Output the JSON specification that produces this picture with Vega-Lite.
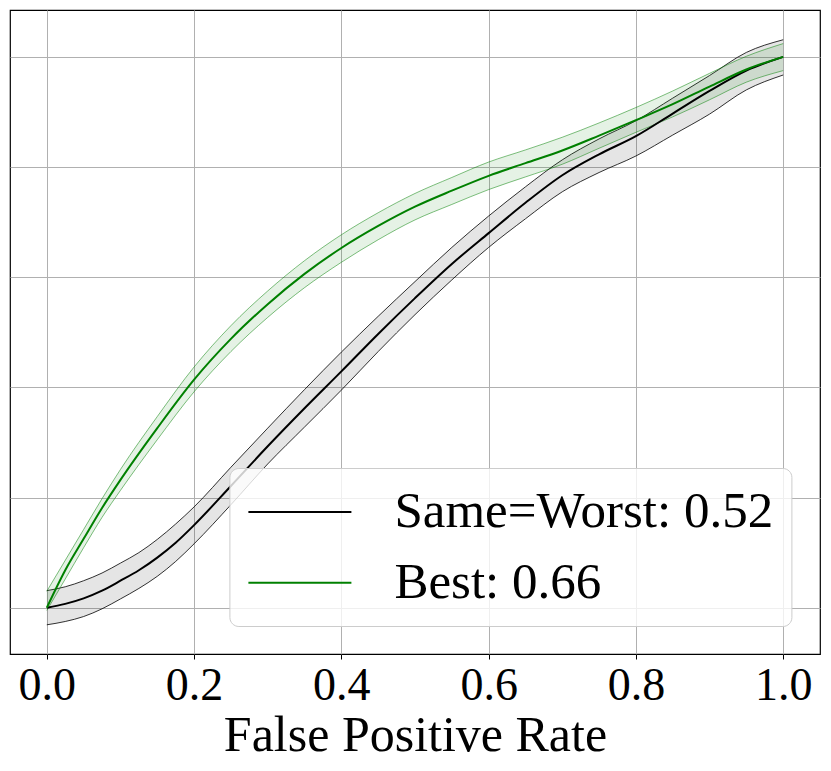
{
  "$schema": "https://vega.github.io/schema/vega-lite/v6.json",
  "width": 810,
  "height": 644,
  "autosize": "none",
  "padding": {"left": 10, "top": 10, "right": 11, "bottom": 117},
  "background": "white",
  "config": {
    "font": "Liberation Serif",
    "view": {"stroke": "black", "strokeWidth": 1.2},
    "axis": {"gridColor": "#b0b0b0", "gridWidth": 1, "gridOpacity": 1}
  },
  "data": {
    "values": [
      {"model": "Same=Worst: 0.52", "fpr": 0.0, "tpr": 0.0, "lo": -0.031, "hi": 0.031},
      {"model": "Same=Worst: 0.52", "fpr": 0.025, "tpr": 0.007, "lo": -0.025, "hi": 0.038},
      {"model": "Same=Worst: 0.52", "fpr": 0.05, "tpr": 0.017, "lo": -0.016, "hi": 0.049},
      {"model": "Same=Worst: 0.52", "fpr": 0.075, "tpr": 0.031, "lo": -0.002, "hi": 0.063},
      {"model": "Same=Worst: 0.52", "fpr": 0.1, "tpr": 0.049, "lo": 0.016, "hi": 0.081},
      {"model": "Same=Worst: 0.52", "fpr": 0.125, "tpr": 0.068, "lo": 0.035, "hi": 0.1},
      {"model": "Same=Worst: 0.52", "fpr": 0.15, "tpr": 0.091, "lo": 0.057, "hi": 0.124},
      {"model": "Same=Worst: 0.52", "fpr": 0.175, "tpr": 0.118, "lo": 0.084, "hi": 0.152},
      {"model": "Same=Worst: 0.52", "fpr": 0.2, "tpr": 0.15, "lo": 0.116, "hi": 0.183},
      {"model": "Same=Worst: 0.52", "fpr": 0.25, "tpr": 0.221, "lo": 0.187, "hi": 0.255},
      {"model": "Same=Worst: 0.52", "fpr": 0.3, "tpr": 0.293, "lo": 0.261, "hi": 0.326},
      {"model": "Same=Worst: 0.52", "fpr": 0.35, "tpr": 0.362, "lo": 0.328, "hi": 0.396},
      {"model": "Same=Worst: 0.52", "fpr": 0.4, "tpr": 0.429, "lo": 0.395, "hi": 0.464},
      {"model": "Same=Worst: 0.52", "fpr": 0.45, "tpr": 0.497, "lo": 0.465, "hi": 0.529},
      {"model": "Same=Worst: 0.52", "fpr": 0.5, "tpr": 0.562, "lo": 0.532, "hi": 0.592},
      {"model": "Same=Worst: 0.52", "fpr": 0.55, "tpr": 0.624, "lo": 0.595, "hi": 0.654},
      {"model": "Same=Worst: 0.52", "fpr": 0.6, "tpr": 0.68, "lo": 0.654, "hi": 0.711},
      {"model": "Same=Worst: 0.52", "fpr": 0.65, "tpr": 0.735, "lo": 0.706, "hi": 0.764},
      {"model": "Same=Worst: 0.52", "fpr": 0.7, "tpr": 0.785, "lo": 0.755, "hi": 0.813},
      {"model": "Same=Worst: 0.52", "fpr": 0.75, "tpr": 0.823, "lo": 0.79, "hi": 0.851},
      {"model": "Same=Worst: 0.52", "fpr": 0.8, "tpr": 0.856, "lo": 0.82, "hi": 0.884},
      {"model": "Same=Worst: 0.52", "fpr": 0.85, "tpr": 0.897, "lo": 0.858, "hi": 0.925},
      {"model": "Same=Worst: 0.52", "fpr": 0.9, "tpr": 0.938, "lo": 0.896, "hi": 0.966},
      {"model": "Same=Worst: 0.52", "fpr": 0.95, "tpr": 0.975, "lo": 0.94, "hi": 1.008},
      {"model": "Same=Worst: 0.52", "fpr": 1.0, "tpr": 1.0, "lo": 0.967, "hi": 1.031},
      {"model": "Best: 0.66", "fpr": 0.0, "tpr": 0.0, "lo": -0.005, "hi": 0.03},
      {"model": "Best: 0.66", "fpr": 0.025, "tpr": 0.068, "lo": 0.052, "hi": 0.086},
      {"model": "Best: 0.66", "fpr": 0.05, "tpr": 0.125, "lo": 0.109, "hi": 0.142},
      {"model": "Best: 0.66", "fpr": 0.075, "tpr": 0.181, "lo": 0.164, "hi": 0.198},
      {"model": "Best: 0.66", "fpr": 0.1, "tpr": 0.232, "lo": 0.213, "hi": 0.251},
      {"model": "Best: 0.66", "fpr": 0.15, "tpr": 0.326, "lo": 0.305, "hi": 0.347},
      {"model": "Best: 0.66", "fpr": 0.2, "tpr": 0.414, "lo": 0.392, "hi": 0.437},
      {"model": "Best: 0.66", "fpr": 0.25, "tpr": 0.488, "lo": 0.465, "hi": 0.512},
      {"model": "Best: 0.66", "fpr": 0.3, "tpr": 0.551, "lo": 0.527, "hi": 0.575},
      {"model": "Best: 0.66", "fpr": 0.35, "tpr": 0.606, "lo": 0.581, "hi": 0.63},
      {"model": "Best: 0.66", "fpr": 0.4, "tpr": 0.653, "lo": 0.627, "hi": 0.677},
      {"model": "Best: 0.66", "fpr": 0.45, "tpr": 0.693, "lo": 0.668, "hi": 0.717},
      {"model": "Best: 0.66", "fpr": 0.5, "tpr": 0.728, "lo": 0.704, "hi": 0.752},
      {"model": "Best: 0.66", "fpr": 0.55, "tpr": 0.757, "lo": 0.732, "hi": 0.781},
      {"model": "Best: 0.66", "fpr": 0.6, "tpr": 0.784, "lo": 0.759, "hi": 0.809},
      {"model": "Best: 0.66", "fpr": 0.65, "tpr": 0.807, "lo": 0.782, "hi": 0.831},
      {"model": "Best: 0.66", "fpr": 0.7, "tpr": 0.83, "lo": 0.805, "hi": 0.854},
      {"model": "Best: 0.66", "fpr": 0.75, "tpr": 0.857, "lo": 0.834, "hi": 0.88},
      {"model": "Best: 0.66", "fpr": 0.8, "tpr": 0.885, "lo": 0.863, "hi": 0.908},
      {"model": "Best: 0.66", "fpr": 0.85, "tpr": 0.914, "lo": 0.891, "hi": 0.938},
      {"model": "Best: 0.66", "fpr": 0.9, "tpr": 0.946, "lo": 0.922, "hi": 0.97},
      {"model": "Best: 0.66", "fpr": 0.95, "tpr": 0.977, "lo": 0.954, "hi": 1.001},
      {"model": "Best: 0.66", "fpr": 1.0, "tpr": 1.0, "lo": 0.975, "hi": 1.024}
    ]
  },
  "encoding": {
    "x": {
      "field": "fpr",
      "type": "quantitative",
      "scale": {"domain": [-0.05, 1.05], "nice": false, "zero": false},
      "axis": {
        "values": [0, 0.2, 0.4, 0.6, 0.8, 1],
        "format": ".1f",
        "title": "False Positive Rate",
        "domain": false,
        "tickSize": 5,
        "tickColor": "black",
        "labelFontSize": 46,
        "labelColor": "black",
        "labelPadding": 4,
        "titleFontSize": 50,
        "titleFontWeight": "normal",
        "titleColor": "black",
        "titlePadding": 2
      }
    },
    "y": {
      "type": "quantitative",
      "scale": {"domain": [-0.084, 1.085], "nice": false, "zero": false},
      "axis": {"values": [0, 0.2, 0.4, 0.6, 0.8, 1], "labels": false, "ticks": false, "domain": false, "title": null}
    }
  },
  "layer": [
    {
      "transform": [{"filter": "datum.model == 'Same=Worst: 0.52'"}],
      "mark": {"type": "area", "interpolate": "monotone", "color": "black", "fillOpacity": 0.1},
      "encoding": {"y": {"field": "lo"}, "y2": {"field": "hi"}}
    },
    {
      "transform": [{"filter": "datum.model == 'Same=Worst: 0.52'"}],
      "mark": {"type": "line", "interpolate": "monotone", "strokeWidth": 1, "color": "black", "strokeOpacity": 0.8},
      "encoding": {"y": {"field": "lo"}}
    },
    {
      "transform": [{"filter": "datum.model == 'Same=Worst: 0.52'"}],
      "mark": {"type": "line", "interpolate": "monotone", "strokeWidth": 1, "color": "black", "strokeOpacity": 0.8},
      "encoding": {"y": {"field": "hi"}}
    },
    {
      "transform": [{"filter": "datum.model == 'Best: 0.66'"}],
      "mark": {"type": "area", "interpolate": "monotone", "color": "#008000", "fillOpacity": 0.1},
      "encoding": {"y": {"field": "lo"}, "y2": {"field": "hi"}}
    },
    {
      "transform": [{"filter": "datum.model == 'Best: 0.66'"}],
      "mark": {"type": "line", "interpolate": "monotone", "strokeWidth": 1, "color": "#008000", "strokeOpacity": 0.5},
      "encoding": {"y": {"field": "lo"}}
    },
    {
      "transform": [{"filter": "datum.model == 'Best: 0.66'"}],
      "mark": {"type": "line", "interpolate": "monotone", "strokeWidth": 1, "color": "#008000", "strokeOpacity": 0.5},
      "encoding": {"y": {"field": "hi"}}
    },
    {
      "mark": {"type": "line", "interpolate": "monotone", "strokeWidth": 2},
      "encoding": {
        "y": {"field": "tpr"},
        "stroke": {
          "field": "model",
          "type": "nominal",
          "scale": {"domain": ["Same=Worst: 0.52", "Best: 0.66"], "range": ["black", "#008000"]},
          "legend": {
            "title": null,
            "orient": "none",
            "legendX": 219.4,
            "legendY": 458,
            "symbolType": "M-1,0H3.12",
            "symbolSize": 2500,
            "symbolStrokeWidth": 2,
            "labelFontSize": 51,
            "labelColor": "black",
            "labelOffset": 95,
            "labelLimit": 700,
            "rowPadding": 19.7,
            "padding": 18,
            "fillColor": "rgba(255,255,255,0.8)",
            "strokeColor": "#cccccc",
            "cornerRadius": 9
          }
        }
      }
    }
  ]
}
